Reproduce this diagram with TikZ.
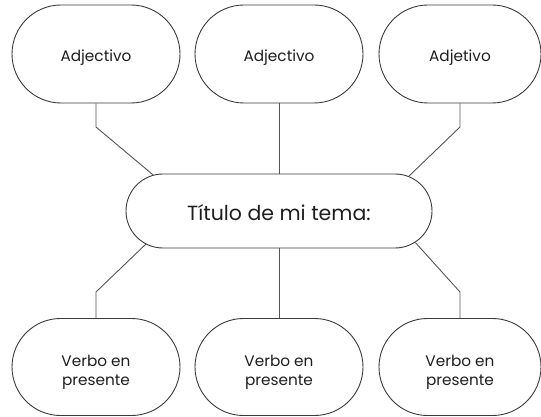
\documentclass[tikz,border=0pt]{standalone}
\usepackage{fontspec}
\setmainfont{Poppins}
\usetikzlibrary{shapes.misc}
\definecolor{ink}{HTML}{1E1E1E}
\definecolor{edge}{HTML}{3A3A3A}
\definecolor{conn}{HTML}{555555}
\tikzset{
  pill/.style={rounded rectangle, draw=edge, line width=0.9pt, inner sep=0pt,
    minimum width=168pt, minimum height=98pt},
  smallpill/.style={pill, minimum width=162pt},
  bigpill/.style={pill, minimum width=306pt, minimum height=74pt},
  txt/.style={text=ink, inner sep=0pt, align=center, font=\fontsize{15.3}{19}\selectfont},
  bigtxt/.style={txt, font=\fontsize{20.5}{24}\selectfont},
  link/.style={draw=conn, line width=0.9pt}
}
\begin{document}
\begin{tikzpicture}[x=1pt,y=-1pt]
\useasboundingbox (0,0) rectangle (541,417);
\node[bigpill] (c) at (279,211) {};
\node[pill] (tl) at (96,54) {};
\node[pill] (tm) at (279,54) {};
\node[smallpill] (tr) at (460,54) {};
\node[pill, minimum height=97pt] (bl) at (96,367) {};
\node[pill, minimum height=97pt] (bm) at (279,367) {};
\node[smallpill, minimum height=97pt] (br) at (460,367) {};
\node[bigtxt] (ct) at ([yshift=-1.5pt]c.center) {Título de mi tema:};
\node[txt] (tlt) at ([yshift=-4pt]tl.center) {Adjectivo};
\node[txt] (tmt) at ([yshift=-4pt]tm.center) {Adjectivo};
\node[txt] (trt) at ([yshift=-4pt]tr.center) {Adjetivo};
\node[txt] (blt) at ([yshift=-5pt]bl.center) {Verbo en\\presente};
\node[txt] (bmt) at ([yshift=-5pt]bm.center) {Verbo en\\presente};
\node[txt] (brt) at ([yshift=-5pt]br.center) {Verbo en\\presente};
\coordinate (k1) at (96,127);
\coordinate (k3) at (460,127);
\coordinate (k4) at (96,292);
\coordinate (k6) at (460,292);
\draw[link] (tl.south) -- (k1) -- (c.164.7);
\draw[link] (tm.south) -- (c.north);
\draw[link] (tr.south) -- (k3) -- (c.15.1);
\draw[link] (bl.north) -- (k4) -- (c.-166);
\draw[link] (bm.north) -- (c.south);
\draw[link] (br.north) -- (k6) -- (c.-13.8);
\end{tikzpicture}
\end{document}
